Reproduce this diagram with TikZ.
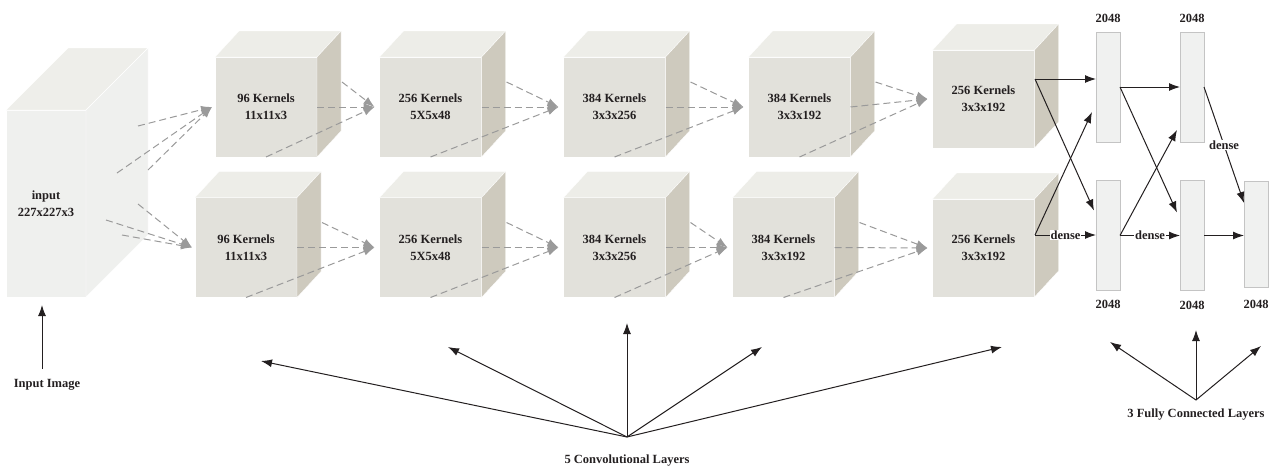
\documentclass[tikz,border=0pt]{standalone}
\usepackage{fontspec}
\setmainfont{Liberation Serif}
\usetikzlibrary{positioning,arrows.meta}
\definecolor{inkc}{HTML}{231F20}
\definecolor{frontc}{HTML}{E2E1DB}
\definecolor{topc}{HTML}{EDEDE8}
\definecolor{sidec}{HTML}{CECABE}
\definecolor{inc}{HTML}{EFF0EE}
\definecolor{flowc}{HTML}{9A9A9A}
\definecolor{barc}{HTML}{F0F1F0}
\definecolor{barline}{HTML}{C4C4C4}
\begin{document}
\begin{tikzpicture}[x=1pt, y=-1pt,
    font=\bfseries\fontsize{12.5pt}{17pt}\selectfont,
    every node/.style={text=inkc},
    kernel/.style={minimum width=102pt, minimum height=100pt, fill=frontc, draw=white,
        line width=0.8pt, outer sep=0pt, inner sep=0pt, align=center},
    flow/.style={draw=flowc, line width=1pt, dash pattern=on 7pt off 4pt,
        -{Latex[length=11pt,width=8pt,fill=flowc]}},
    conn/.style={draw=inkc, line width=1pt, -{Latex[length=11pt,width=8pt]}},
    fc/.style={draw=barline, fill=barc, minimum width=24pt, minimum height=110pt,
        inner sep=0pt, outer sep=0pt, line width=0.8pt},
    lbl/.style={inner sep=1pt},
    dense/.style={fill=white, inner sep=1pt}]
    \useasboundingbox (0,0) rectangle (1274,471);

    % input volume
    \node[kernel, fill=inc, minimum width=80pt, minimum height=187pt] (in) at (46,203.5)
        {input\\227x227x3};
    \filldraw[fill=topc!60!inc, draw=white] (in.north west) -- ++(62,-62)
        -- ([shift={(62,-62)}]in.north east) -- (in.north east) -- cycle;
    \filldraw[fill=inc, draw=white] (in.north east) -- ++(62,-62)
        -- ([shift={(62,-62)}]in.south east) -- (in.south east) -- cycle;

    % two rows of kernels
    \node[kernel] (t1) at (266,107) {96 Kernels\\11x11x3};
    \node[kernel] (t2) at (430.5,107) {256 Kernels\\5X5x48};
    \node[kernel] (t3) at (614.5,107) {384 Kernels\\3x3x256};
    \node[kernel] (t4) at (799.5,107) {384 Kernels\\3x3x192};
    \node[kernel, minimum height=98pt] (t5) at (983.5,99) {256 Kernels\\3x3x192};
    \node[kernel] (b1) at (246,247.5) {96 Kernels\\11x11x3};
    \node[kernel] (b2) at (430.5,247.5) {256 Kernels\\5X5x48};
    \node[kernel] (b3) at (614.5,247.5) {384 Kernels\\3x3x256};
    \node[kernel] (b4) at (783.5,247.5) {384 Kernels\\3x3x192};
    \node[kernel, minimum height=98pt] (b5) at (983.5,248) {256 Kernels\\3x3x192};
    \foreach \c in {t1,t2,t3,t4,t5,b1,b2,b3,b4,b5}{
        % top face, then side face
        \filldraw[fill=topc, draw=white] (\c.north west) -- ++(24,-26)
            -- ([shift={(24,-26)}]\c.north east) -- (\c.north east) -- cycle;
        \filldraw[fill=sidec, draw=white] (\c.north east) -- ++(24,-26)
            -- ([shift={(24,-26)}]\c.south east) -- (\c.south east) -- cycle;
    }

    % dashed flow from the input
    \coordinate (ia) at (138,126);
    \coordinate (ib) at (117,173);
    \coordinate (ic) at (148,170);
    \coordinate (id) at (106,220);
    \coordinate (ie) at (122,235);
    \coordinate (if) at (138,204);
    \foreach \p in {ia,ib,ic}
        \draw[flow] (\p) -- ([xshift=-3pt]t1.west);
    \foreach \p in {id,ie,if}
        \draw[flow] (\p) -- ([xshift=-3pt]b1.west);

    % dashed flow between kernels
    \foreach \a/\b in {t1/t2,t2/t3,t3/t4,t4/t5,b1/b2,b2/b3,b3/b4,b4/b5}{
        \draw[flow] (\a.east) -- ([xshift=-5pt]\b.west);
        \draw[flow] ([shift={(25,-25)}]\a.east) -- ([xshift=-5pt]\b.west);
        \draw[flow] (\a.south) -- ([xshift=-5pt]\b.west);
    }

    % fully connected layers
    \node[fc] (f1) at (1108,87) {};
    \node[fc] (f2) at (1108,235.5) {};
    \node[fc] (f3) at (1192,87) {};
    \node[fc] (f4) at (1192,235.5) {};
    \node[fc, minimum height=106pt] (f5) at (1256,234) {};
    \node[lbl, above=8pt of f1] (n1) {2048};
    \node[lbl, above=8pt of f3] (n3) {2048};
    \node[lbl, below=8pt of f2] (n2) {2048};
    \node[lbl, below=9pt of f4] (n4) {2048};
    \node[lbl, below=12pt of f5] (n5) {2048};

    \coordinate (t5o) at (1035,79);
    \coordinate (b5o) at (1035,235);
    \draw[conn] (t5o) -- (f1.west |- t5o);
    \draw[conn] (t5o) -- ([xshift=-2pt,yshift=25pt]f2.west);
    \draw[conn] (b5o) -- ([xshift=-4pt,yshift=-25pt]f1.west);
    \draw[conn] (b5o) -- node[dense] {dense} (f2.west |- b5o);
    \draw[conn] (f1.east) -- (f3.west);
    \draw[conn] (f1.east) -- ([xshift=-3pt,yshift=23pt]f4.west);
    \draw[conn] (f2.east) -- ([xshift=-3pt,yshift=-43pt]f3.west);
    \draw[conn] (f2.east) -- node[dense] {dense} (f4.west);
    \draw[conn] (f3.east) -- node[dense] {dense} ([yshift=31pt]f5.west);
    \draw[conn] (f4.east) -- (f5.west |- f4.east);

    % captions underneath
    \node (inlbl) at (47,385) {Input Image};
    \coordinate (inbase) at (42,369);
    \coordinate (inup) at (42,305);
    \draw[conn] (inbase) -- (inup);

    \node (convlbl) at (627,461) {5 Convolutional Layers};
    \coordinate (convo) at (627,437);
    \coordinate (c1) at (261,361);
    \coordinate (c2) at (448,347);
    \coordinate (c3) at (627,323);
    \coordinate (c4) at (762,347);
    \coordinate (c5) at (1002,347);
    \foreach \c in {c1,c2,c3,c4,c5}
        \draw[conn] (convo) -- (\c);

    \node (fclbl) at (1196,415) {3 Fully Connected Layers};
    \coordinate (fco) at (1196,400);
    \coordinate (d1) at (1110,342);
    \coordinate (d2) at (1196,330);
    \coordinate (d3) at (1261,346);
    \foreach \d in {d1,d2,d3}
        \draw[conn] (fco) -- (\d);
\end{tikzpicture}
\end{document}
